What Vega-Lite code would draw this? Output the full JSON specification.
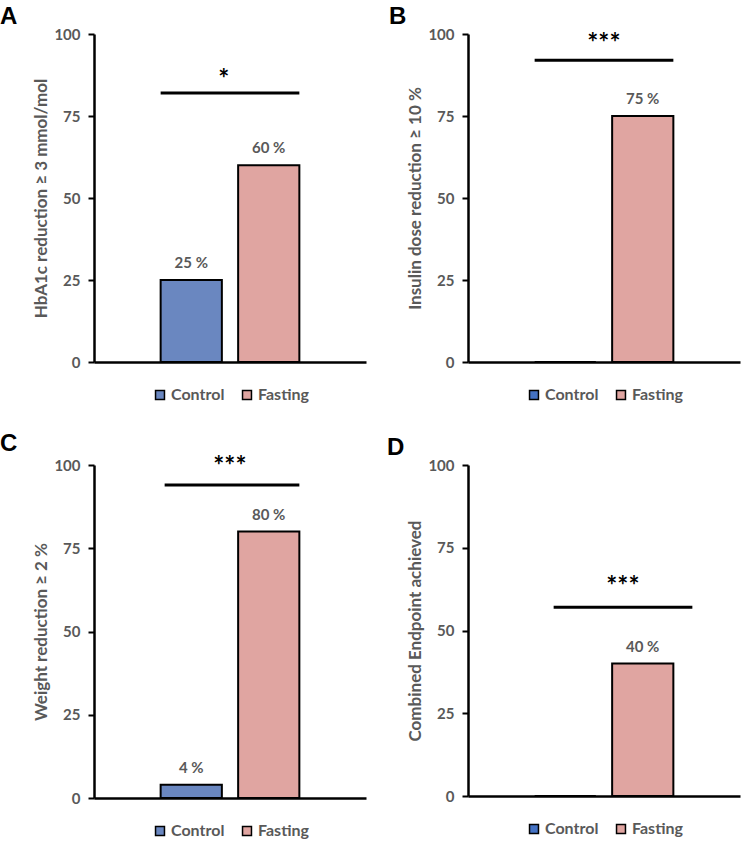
{
  "$schema": "https://vega.github.io/schema/vega-lite/v6.json",
  "background": "white",
  "padding": {"left": 0, "top": 5, "right": 5, "bottom": 5},
  "config": {
    "view": {"stroke": null},
    "font": "Lato",
    "axisY": {
      "domainColor": "black", "domainWidth": 2.5, "tickColor": "black", "tickWidth": 2, "tickSize": 6,
      "labelFont": "Lato", "labelFontSize": 15, "labelFontWeight": "bold", "labelColor": "#595959", "labelPadding": 8,
      "titleFont": "Lato", "titleFontSize": 17, "titleFontWeight": "bold", "titleColor": "#595959", "titlePadding": 3,
      "grid": false
    },
    "axisX": {"domainColor": "black", "domainWidth": 2.5, "ticks": false, "labels": false, "title": null, "grid": false},
    "legend": {
      "orient": "bottom", "direction": "horizontal", "title": null,
      "symbolType": "square", "symbolStrokeColor": "black", "symbolStrokeWidth": 1.5, "symbolSize": 80,
      "labelFont": "Lato", "labelFontSize": 16, "labelFontWeight": "bold", "labelColor": "#595959",
      "columnPadding": 14, "labelOffset": 3, "offset": 25,
      "layout": {"bottom": {"anchor": "middle"}}
    },
    "title": {"anchor": "start", "frame": "group", "font": "Liberation Sans", "fontSize": 24, "fontWeight": "bold", "color": "black", "offset": -2}
  },
  "datasets": {
    "bars": [
      {"panel": "A", "group": "Control", "value": 25, "label": "25 %"},
      {"panel": "A", "group": "Fasting", "value": 60, "label": "60 %"},
      {"panel": "B", "group": "Control", "value": 0},
      {"panel": "B", "group": "Fasting", "value": 75, "label": "75 %"},
      {"panel": "C", "group": "Control", "value": 4, "label": "4 %"},
      {"panel": "C", "group": "Fasting", "value": 80, "label": "80 %"},
      {"panel": "D", "group": "Control", "value": 0},
      {"panel": "D", "group": "Fasting", "value": 40, "label": "40 %"}
    ],
    "sig": [
      {"panel": "A", "line": 82, "starpos": 86, "stars": "*", "from": "Control", "to": "Fasting"},
      {"panel": "B", "line": 92, "starpos": 97, "stars": "***", "from": "Control", "to": "Fasting"},
      {"panel": "C", "line": 94, "starpos": 99.5, "stars": "***", "from": "Control", "to": "Fasting"},
      {"panel": "D", "line": 57, "starpos": 63, "stars": "***", "from": "Control", "to": "Fasting"}
    ]
  },
  "columns": 2,
  "spacing": {"column": 21, "row": 28},
  "resolve": {"legend": {"color": "independent"}, "scale": {"color": "independent"}},
  "concat": [
    {
      "width": 272, "height": 328,
      "title": {"text": "A", "dx": -94},
      "layer": [
        {"data": {"name": "bars"}, "transform": [{"filter": "datum.panel === 'A'"}],
         "mark": {"type": "bar", "stroke": "black", "strokeWidth": 2},
         "encoding": {
           "x": {"field": "group", "type": "nominal", "scale": {"domain": ["Control", "Fasting"], "paddingInner": 0.21, "paddingOuter": 0.86}},
           "y": {"field": "value", "type": "quantitative", "scale": {"domain": [0, 100]}, "axis": {"values": [0, 25, 50, 75, 100], "title": "HbA1c reduction ≥ 3 mmol/mol"}},
           "color": {"field": "group", "type": "nominal", "scale": {"domain": ["Control", "Fasting"], "range": ["#6A87C0", "#E0A5A1"]}}
         }},
        {"data": {"name": "bars"}, "transform": [{"filter": "datum.panel === 'A' && datum.label"}],
         "mark": {"type": "text", "baseline": "bottom", "dy": -9, "fontSize": 15, "fontWeight": "bold", "color": "#595959"},
         "encoding": {"x": {"field": "group", "type": "nominal"}, "y": {"field": "value", "type": "quantitative"}, "text": {"field": "label"}}},
        {"data": {"name": "sig"}, "transform": [{"filter": "datum.panel === 'A'"}],
         "mark": {"type": "rule", "strokeWidth": 3, "color": "black"},
         "encoding": {"x": {"field": "from", "type": "nominal", "bandPosition": 0}, "x2": {"field": "to", "bandPosition": 1}, "y": {"field": "line", "type": "quantitative"}}},
        {"data": {"name": "sig"}, "transform": [{"filter": "datum.panel === 'A'"}],
         "mark": {"type": "text", "baseline": "middle", "dx": 2, "fontSize": 26, "fontWeight": "bold", "color": "black"},
         "encoding": {"x": {"field": "from", "type": "nominal", "bandPosition": 1}, "y": {"field": "starpos", "type": "quantitative"}, "text": {"field": "stars"}}}
      ]
    },
    {
      "width": 272, "height": 328,
      "title": {"text": "B", "dx": -79},
      "layer": [
        {"data": {"name": "bars"}, "transform": [{"filter": "datum.panel === 'B'"}],
         "mark": {"type": "bar", "stroke": "black", "strokeWidth": 2},
         "encoding": {
           "x": {"field": "group", "type": "nominal", "scale": {"domain": ["Control", "Fasting"], "paddingInner": 0.21, "paddingOuter": 0.86}},
           "y": {"field": "value", "type": "quantitative", "scale": {"domain": [0, 100]}, "axis": {"values": [0, 25, 50, 75, 100], "title": "Insulin dose reduction ≥ 10 %"}},
           "color": {"field": "group", "type": "nominal", "scale": {"domain": ["Control", "Fasting"], "range": ["#4472C4", "#E0A5A1"]}}
         }},
        {"data": {"name": "bars"}, "transform": [{"filter": "datum.panel === 'B' && datum.label"}],
         "mark": {"type": "text", "baseline": "bottom", "dy": -9, "fontSize": 15, "fontWeight": "bold", "color": "#595959"},
         "encoding": {"x": {"field": "group", "type": "nominal"}, "y": {"field": "value", "type": "quantitative"}, "text": {"field": "label"}}},
        {"data": {"name": "sig"}, "transform": [{"filter": "datum.panel === 'B'"}],
         "mark": {"type": "rule", "strokeWidth": 3, "color": "black"},
         "encoding": {"x": {"field": "from", "type": "nominal", "bandPosition": 0}, "x2": {"field": "to", "bandPosition": 1}, "y": {"field": "line", "type": "quantitative"}}},
        {"data": {"name": "sig"}, "transform": [{"filter": "datum.panel === 'B'"}],
         "mark": {"type": "text", "baseline": "middle", "dx": 8, "fontSize": 26, "fontWeight": "bold", "color": "black"},
         "encoding": {"x": {"field": "from", "type": "nominal", "bandPosition": 1}, "y": {"field": "starpos", "type": "quantitative"}, "text": {"field": "stars"}}}
      ]
    },
    {
      "width": 272, "height": 333,
      "title": {"text": "C", "dx": -94},
      "layer": [
        {"data": {"name": "bars"}, "transform": [{"filter": "datum.panel === 'C'"}],
         "mark": {"type": "bar", "stroke": "black", "strokeWidth": 2},
         "encoding": {
           "x": {"field": "group", "type": "nominal", "scale": {"domain": ["Control", "Fasting"], "paddingInner": 0.21, "paddingOuter": 0.86}},
           "y": {"field": "value", "type": "quantitative", "scale": {"domain": [0, 100]}, "axis": {"values": [0, 25, 50, 75, 100], "title": "Weight reduction ≥ 2 %"}},
           "color": {"field": "group", "type": "nominal", "scale": {"domain": ["Control", "Fasting"], "range": ["#6A87C0", "#E0A5A1"]}}
         }},
        {"data": {"name": "bars"}, "transform": [{"filter": "datum.panel === 'C' && datum.label"}],
         "mark": {"type": "text", "baseline": "bottom", "dy": -9, "fontSize": 15, "fontWeight": "bold", "color": "#595959"},
         "encoding": {"x": {"field": "group", "type": "nominal"}, "y": {"field": "value", "type": "quantitative"}, "text": {"field": "label"}}},
        {"data": {"name": "sig"}, "transform": [{"filter": "datum.panel === 'C'"}],
         "mark": {"type": "rule", "strokeWidth": 3, "color": "black", "xOffset": 4, "x2Offset": 0},
         "encoding": {"x": {"field": "from", "type": "nominal", "bandPosition": 0}, "x2": {"field": "to", "bandPosition": 1}, "y": {"field": "line", "type": "quantitative"}}},
        {"data": {"name": "sig"}, "transform": [{"filter": "datum.panel === 'C'"}],
         "mark": {"type": "text", "baseline": "middle", "dx": 8, "fontSize": 26, "fontWeight": "bold", "color": "black"},
         "encoding": {"x": {"field": "from", "type": "nominal", "bandPosition": 1}, "y": {"field": "starpos", "type": "quantitative"}, "text": {"field": "stars"}}}
      ]
    },
    {
      "width": 272, "height": 331,
      "title": {"text": "D", "dx": -81},
      "layer": [
        {"data": {"name": "bars"}, "transform": [{"filter": "datum.panel === 'D'"}],
         "mark": {"type": "bar", "stroke": "black", "strokeWidth": 2},
         "encoding": {
           "x": {"field": "group", "type": "nominal", "scale": {"domain": ["Control", "Fasting"], "paddingInner": 0.21, "paddingOuter": 0.86}},
           "y": {"field": "value", "type": "quantitative", "scale": {"domain": [0, 100]}, "axis": {"values": [0, 25, 50, 75, 100], "title": "Combined Endpoint achieved"}},
           "color": {"field": "group", "type": "nominal", "scale": {"domain": ["Control", "Fasting"], "range": ["#4472C4", "#E0A5A1"]}}
         }},
        {"data": {"name": "bars"}, "transform": [{"filter": "datum.panel === 'D' && datum.label"}],
         "mark": {"type": "text", "baseline": "bottom", "dy": -9, "fontSize": 15, "fontWeight": "bold", "color": "#595959"},
         "encoding": {"x": {"field": "group", "type": "nominal"}, "y": {"field": "value", "type": "quantitative"}, "text": {"field": "label"}}},
        {"data": {"name": "sig"}, "transform": [{"filter": "datum.panel === 'D'"}],
         "mark": {"type": "rule", "strokeWidth": 3, "color": "black", "xOffset": 19, "x2Offset": 19},
         "encoding": {"x": {"field": "from", "type": "nominal", "bandPosition": 0}, "x2": {"field": "to", "bandPosition": 1}, "y": {"field": "line", "type": "quantitative"}}},
        {"data": {"name": "sig"}, "transform": [{"filter": "datum.panel === 'D'"}],
         "mark": {"type": "text", "baseline": "middle", "dx": 27, "fontSize": 26, "fontWeight": "bold", "color": "black"},
         "encoding": {"x": {"field": "from", "type": "nominal", "bandPosition": 1}, "y": {"field": "starpos", "type": "quantitative"}, "text": {"field": "stars"}}}
      ]
    }
  ]
}
